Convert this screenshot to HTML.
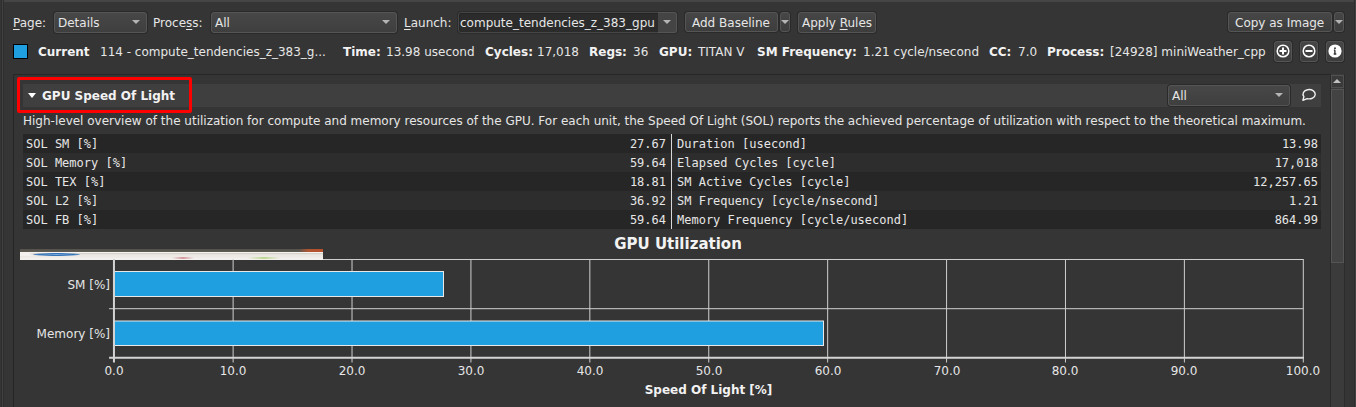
<!DOCTYPE html>
<html><head><meta charset="utf-8">
<style>
*{box-sizing:border-box;margin:0;padding:0}
html,body{width:1356px;height:407px;overflow:hidden;background:#353535}
body{position:relative;font-family:"DejaVu Sans","Liberation Sans",sans-serif;font-size:12px;color:#e6e6e6}
.a{position:absolute;white-space:pre}
.b{font-weight:bold;color:#f2f2f2}
.m{font-family:"DejaVu Sans Mono","Liberation Mono",monospace}
u{text-decoration:underline;text-underline-offset:2px;text-decoration-thickness:1px}
.combo{position:absolute;height:21px;border:1px solid #555;border-radius:3px;background:linear-gradient(#474747,#3f3f3f);box-shadow:0 0 0 1px #2a2a2a}
.btn{position:absolute;border:1px solid #555;border-radius:3px;background:linear-gradient(#464646,#3d3d3d);box-shadow:0 0 0 1px #2a2a2a}
.arr{position:absolute;width:0;height:0;border-left:4px solid transparent;border-right:4px solid transparent;border-top:4.5px solid #b4b4b4}
.row{position:absolute;left:23px;width:1298px;height:19px}
.grid{position:absolute;background:#c8c8c8}
</style></head><body>
<!-- top strip -->
<div class="a" style="left:4px;top:0;width:1350px;height:2px;background:#454545"></div>
<div class="a" style="left:1px;top:0;width:1px;height:407px;background:#2e2e2e"></div>
<div class="a" style="left:2px;top:0;width:1px;height:407px;background:#414141"></div>
<div class="a" style="left:3px;top:0;width:1px;height:407px;background:#2e2e2e"></div>
<div class="a" style="left:1354px;top:0;width:1px;height:407px;background:#2e2e2e"></div>
<div class="a" style="left:1355px;top:0;width:1px;height:407px;background:#424242"></div>

<!-- Row 1 -->
<div class="a" style="left:13px;top:16px;line-height:15px"><u>P</u>age:</div>
<div class="combo" style="left:54px;top:12px;width:93px"></div>
<div class="a" style="left:58px;top:16px;line-height:15px">Details</div>
<div class="arr" style="left:132px;top:20px"></div>

<div class="a" style="left:153px;top:16px;line-height:15px">Proce<u>s</u>s:</div>
<div class="combo" style="left:211px;top:12px;width:186px"></div>
<div class="a" style="left:215px;top:16px;line-height:15px">All</div>
<div class="arr" style="left:382px;top:20px"></div>

<div class="a" style="left:404px;top:16px;line-height:15px"><u>L</u>aunch:</div>
<div class="a" style="left:458px;top:12px;width:219px;height:21px;border:1px solid #464646;border-radius:3px;background:#2b2b2b;box-shadow:inset 0 1px 0 #232323,inset 1px 0 0 #262626,0 0 0 1px #2c2c2c"></div>
<div class="a" style="left:658px;top:12px;width:19px;height:21px;border:1px solid #555;border-left:none;border-radius:0 3px 3px 0;background:#444"></div>
<div class="a" style="left:460px;top:16px;line-height:15px">compute_tendencies_z_383_gpu</div>
<div class="arr" style="left:663px;top:20px"></div>

<div class="btn" style="left:685px;top:12px;width:93px;height:20px"></div>
<div class="a" style="left:692px;top:16px;line-height:15px">Add Baseline</div>
<div class="btn" style="left:780px;top:12px;width:10px;height:20px"></div>
<div class="arr" style="left:781px;top:20px"></div>

<div class="btn" style="left:798px;top:12px;width:78px;height:21px"></div>
<div class="a" style="left:802px;top:16px;line-height:15px">Apply <u>R</u>ules</div>

<div class="btn" style="left:1228px;top:12px;width:104px;height:20px"></div>
<div class="a" style="left:1235px;top:16px;line-height:15px">Copy as Image</div>
<div class="btn" style="left:1334px;top:12px;width:10px;height:20px"></div>
<div class="arr" style="left:1335px;top:20px"></div>

<!-- Row 2 -->
<div class="a" style="left:13px;top:44px;width:15px;height:15px;border:1px solid #000;background:#1f9ee0"></div>
<div class="a b" style="left:38px;top:45px;line-height:15px">Current</div>
<div class="a" style="left:100px;top:45px;line-height:15px">114 - compute_tendencies_z_383_g...</div>
<div class="a b" style="left:343px;top:45px;line-height:15px">Time:</div>
<div class="a" style="left:386px;top:45px;line-height:15px">13.98 usecond</div>
<div class="a b" style="left:485px;top:45px;line-height:15px">Cycles:</div>
<div class="a" style="left:537px;top:45px;line-height:15px">17,018</div>
<div class="a b" style="left:589px;top:45px;line-height:15px">Regs:</div>
<div class="a" style="left:633px;top:45px;line-height:15px">36</div>
<div class="a b" style="left:659px;top:45px;line-height:15px">GPU:</div>
<div class="a" style="left:698px;top:45px;line-height:15px">TITAN V</div>
<div class="a b" style="left:757px;top:45px;line-height:15px">SM Frequency:</div>
<div class="a" style="left:863px;top:45px;line-height:15px">1.21 cycle/nsecond</div>
<div class="a b" style="left:989px;top:45px;line-height:15px">CC:</div>
<div class="a" style="left:1018px;top:45px;line-height:15px">7.0</div>
<div class="a b" style="left:1047px;top:45px;line-height:15px">Process:</div>
<div class="a" style="left:1110px;top:45px;line-height:15px">[24928] miniWeather_cpp</div>

<div class="btn" style="left:1274px;top:41px;width:18px;height:21px"></div>
<div class="btn" style="left:1300px;top:41px;width:18px;height:21px"></div>
<div class="btn" style="left:1326px;top:41px;width:18px;height:21px"></div>
<svg class="a" style="left:1274px;top:41px" width="72" height="21" viewBox="0 0 72 21">
 <circle cx="9" cy="10" r="5.8" fill="none" stroke="#fff" stroke-width="1.5"/>
 <path d="M9 6.5v7M5.5 10h7" stroke="#fff" stroke-width="2"/>
 <circle cx="35" cy="10" r="5.8" fill="none" stroke="#fff" stroke-width="1.5"/>
 <path d="M31.5 10h7" stroke="#fff" stroke-width="2"/>
 <circle cx="61" cy="10" r="6.6" fill="#fff"/>
 <path d="M60.9 9.2v3.6M59.7 13h2.6M59.9 9.2h1.2" stroke="#333" stroke-width="1.4"/>
 <circle cx="61" cy="7.3" r="0.95" fill="#333"/>
</svg>

<!-- Panel -->
<div class="a" style="left:13px;top:74px;width:1318px;height:340px;border:1px solid #272727;border-right:none;border-bottom:none"></div>
<div class="a" style="left:17px;top:77px;width:175px;height:36px;border:3px solid #ff0000;border-radius:2px;z-index:5"></div>
<div class="a" style="left:23px;top:84px;width:1298px;height:23px;background:#3f3f3f"></div>
<div class="a" style="left:28px;top:93px;width:0;height:0;border-left:4px solid transparent;border-right:4px solid transparent;border-top:5px solid #fff"></div>
<div class="a b" style="left:42px;top:89px;line-height:15px">GPU Speed Of Light</div>
<div class="combo" style="left:1168px;top:85px;width:122px"></div>
<div class="a" style="left:1172px;top:89px;line-height:15px">All</div>
<div class="arr" style="left:1275px;top:93.4px"></div>
<svg class="a" style="left:1300px;top:87px" width="20" height="16" viewBox="0 0 20 16">
 <path d="M3.9 9.6 A6.1 4.65 0 1 1 7.1 11.6 L2.9 13.3 Z" fill="none" stroke="#f0f0f0" stroke-width="1.4" stroke-linejoin="round"/>
</svg>

<!-- scrollbar -->
<div class="a" style="left:1330px;top:74px;width:15px;height:340px;background:#3b3b3b;border-left:1px solid #2a2a2a;border-right:1px solid #2c2c2c"></div>
<div class="a" style="left:1331px;top:75px;width:13px;height:13px;border:1px solid #505050;background:#3a3a3a"></div>
<div class="a" style="left:1333px;top:79px;width:0;height:0;border-left:4px solid transparent;border-right:4px solid transparent;border-bottom:4.5px solid #c0c0c0"></div>
<div class="a" style="left:1331px;top:89px;width:13px;height:174px;border:1px solid #555;background:#434343"></div>

<!-- description -->
<div class="a" style="left:23px;top:114px;line-height:15px">High-level overview of the utilization for compute and memory resources of the GPU. For each unit, the Speed Of Light (SOL) reports the achieved percentage of utilization with respect to the theoretical maximum.</div>

<!-- table -->
<div class="row" style="top:134px;background:#262626"></div>
<div class="row" style="top:153px;background:#2d2d2d"></div>
<div class="row" style="top:172px;background:#262626"></div>
<div class="row" style="top:191px;background:#2d2d2d"></div>
<div class="row" style="top:210px;background:#262626"></div>
<div class="a" style="left:671px;top:134px;width:1px;height:95px;background:#d8d8d8"></div>
<div class="a m" style="left:26px;top:135px;line-height:19px">SOL SM [%]
SOL Memory [%]
SOL TEX [%]
SOL L2 [%]
SOL FB [%]</div>
<div class="a m" style="left:566px;width:100px;text-align:right;top:135px;line-height:19px">27.67
59.64
18.81
36.92
59.64</div>
<div class="a m" style="left:677px;top:135px;line-height:19px">Duration [usecond]
Elapsed Cycles [cycle]
SM Active Cycles [cycle]
SM Frequency [cycle/nsecond]
Memory Frequency [cycle/usecond]</div>
<div class="a m" style="left:1218px;width:100px;text-align:right;top:135px;line-height:19px">13.98
17,018
12,257.65
1.21
864.99</div>

<!-- chart -->
<div class="a b" style="left:0;width:1356px;text-align:center;top:235px;font-size:15px;line-height:18px">GPU Utilization</div>
<div class="a" style="left:20px;top:249px;width:303px;height:11px;background:linear-gradient(#54514a 0,#5e5b53 2.5px,#f6f4f1 2.6px,#f6f4f1 3.5px,#dcd8d2 3.6px,#d2cec8 5px,#ebe8e3 5.6px,#efece8 8.5px,#f3f1ee 9px,#f3f1ee 100%)"></div>
<div class="a" style="left:20px;top:252px;width:14px;height:4px;background:linear-gradient(90deg,#f4f2ef,#f4f2ef 60%,rgba(244,242,239,0))"></div>
<div class="a" style="left:20px;top:249px;width:303px;height:2.5px;background:linear-gradient(90deg,rgba(0,0,0,0) 0,rgba(0,0,0,0) 92%,rgba(190,85,45,.85) 95%,rgba(195,80,40,.9) 100%)"></div>
<div class="a" style="left:33px;top:253px;width:47px;height:3.4px;border-radius:50%;background:radial-gradient(ellipse at center,#7aa6d8 0,#3272b8 50%,rgba(60,120,185,0.15) 100%)"></div>
<div class="a" style="left:172px;top:257px;width:22px;height:1.5px;background:linear-gradient(90deg,rgba(200,80,80,0),rgba(190,80,90,.55),rgba(200,80,80,0))"></div>
<div class="a" style="left:248px;top:257px;width:32px;height:1.5px;background:linear-gradient(90deg,rgba(150,200,80,0),rgba(150,200,80,.6),rgba(150,200,80,0))"></div>
<svg class="a" style="left:0;top:0" width="1356" height="407" viewBox="0 0 1356 407">
<g stroke="#cfcfcf" stroke-width="1" fill="none">
<line x1="323" y1="259.5" x2="1303.30" y2="259.5"/>
<line x1="109.1" y1="308.7" x2="1303.30" y2="308.7"/>
<line x1="233.11" y1="259" x2="233.11" y2="362.5"/>
<line x1="352.02" y1="259" x2="352.02" y2="362.5"/>
<line x1="470.93" y1="259" x2="470.93" y2="362.5"/>
<line x1="589.84" y1="259" x2="589.84" y2="362.5"/>
<line x1="708.75" y1="259" x2="708.75" y2="362.5"/>
<line x1="827.66" y1="259" x2="827.66" y2="362.5"/>
<line x1="946.57" y1="259" x2="946.57" y2="362.5"/>
<line x1="1065.48" y1="259" x2="1065.48" y2="362.5"/>
<line x1="1184.39" y1="259" x2="1184.39" y2="362.5"/>
<line x1="1303.30" y1="259" x2="1303.30" y2="362.5"/>
</g>
<rect x="114.2" y="271.5" width="329.3" height="25" fill="#1f9fe0" stroke="#e8e8e8" stroke-width="1"/>
<rect x="114.2" y="321" width="709.3" height="24.5" fill="#1f9fe0" stroke="#e8e8e8" stroke-width="1"/>
<g stroke="#d4d4d4" fill="none"><line x1="113.95" y1="259" x2="113.95" y2="362.5" stroke-width="2"/><line x1="109.1" y1="357.8" x2="1304" y2="357.8" stroke-width="2"/></g>
</svg>
<!-- y labels -->
<div class="a" style="left:0;width:110px;text-align:right;top:278px;line-height:15px">SM [%]</div>
<div class="a" style="left:0;width:110px;text-align:right;top:327px;line-height:15px">Memory [%]</div>
<!-- x labels -->
<div class="a" style="left:84px;width:60px;text-align:center;top:364px;line-height:15px">0.0</div>
<div class="a" style="left:203px;width:60px;text-align:center;top:364px;line-height:15px">10.0</div>
<div class="a" style="left:322px;width:60px;text-align:center;top:364px;line-height:15px">20.0</div>
<div class="a" style="left:441px;width:60px;text-align:center;top:364px;line-height:15px">30.0</div>
<div class="a" style="left:560px;width:60px;text-align:center;top:364px;line-height:15px">40.0</div>
<div class="a" style="left:679px;width:60px;text-align:center;top:364px;line-height:15px">50.0</div>
<div class="a" style="left:798px;width:60px;text-align:center;top:364px;line-height:15px">60.0</div>
<div class="a" style="left:917px;width:60px;text-align:center;top:364px;line-height:15px">70.0</div>
<div class="a" style="left:1035px;width:60px;text-align:center;top:364px;line-height:15px">80.0</div>
<div class="a" style="left:1154px;width:60px;text-align:center;top:364px;line-height:15px">90.0</div>
<div class="a" style="left:1273px;width:60px;text-align:center;top:364px;line-height:15px">100.0</div>
<div class="a b" style="left:608.5px;width:200px;text-align:center;top:383px;line-height:15px">Speed Of Light [%]</div>
</body></html>
